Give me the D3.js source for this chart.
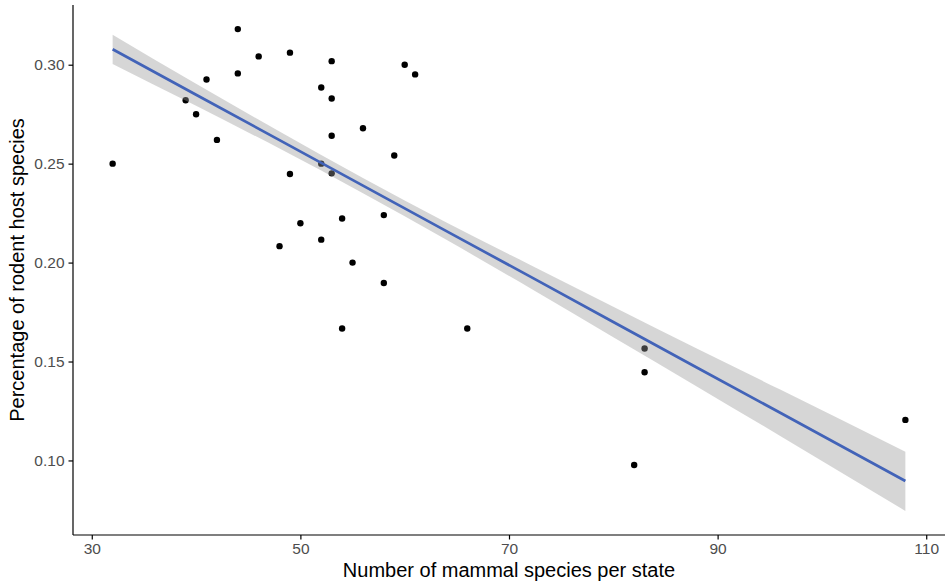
<!DOCTYPE html>
<html lang="en">
<head>
	<meta charset="UTF-8">
	<title>Rodent hosts vs mammal species</title>
	<script src="https://cdn.jsdelivr.net/npm/d3@7"></script>
	<style>
		body { margin: 0; background: #fff; }
		.dot { fill: #000; }
		.axis text { font-family: "Liberation Sans", Arial, sans-serif; font-size: 15.5px; fill: #4d4d4d; }
		.axis path, .axis line { stroke: #000; stroke-width: 1.2px; }
		.title { font-family: "Liberation Sans", Arial, sans-serif; font-size: 20px; fill: #000; }
	</style>
</head>
<body>
<script>
	// mammal species per state (x) and share of rodent host species (y)
	var mammals = [32, 39, 40, 41, 42, 44, 44, 46, 48, 49, 49, 50, 52, 52, 52, 53, 53,
		53, 53, 54, 54, 55, 56, 58, 58, 59, 60, 61, 66, 82, 83, 83, 108];
	var rodentShare = [0.250, 0.282, 0.275, 0.2925, 0.262, 0.318, 0.2956, 0.3042, 0.2083,
		0.3061, 0.2448, 0.2199, 0.2885, 0.250, 0.2116, 0.3018, 0.2829, 0.2641, 0.2451,
		0.2223, 0.1667, 0.200, 0.2679, 0.224, 0.1897, 0.2541, 0.300, 0.2951, 0.1667,
		0.0977, 0.1566, 0.1446, 0.1205];

	// linear fit and its 95% band
	var fitX     = [32, 40, 48, 56, 64, 72, 80, 88, 96, 108];
	var fitY     = [0.3078, 0.2848, 0.2619, 0.2389, 0.2159, 0.1930, 0.1700, 0.1470, 0.1241, 0.0896];
	var fitLower = [0.3004, 0.2792, 0.2576, 0.2351, 0.2115, 0.1871, 0.1623, 0.1374, 0.1124, 0.0745];
	var fitUpper = [0.3152, 0.2904, 0.2662, 0.2427, 0.2203, 0.1989, 0.1777, 0.1566, 0.1358, 0.1044];

	var xTicks = [30, 50, 70, 90, 110];
	var yTicks = [0.10, 0.15, 0.20, 0.25, 0.30];

	var data = mammals.map(function(d, i){ return [d, rodentShare[i]]; });
	var fit = fitX.map(function(d, i){ return { x: d, y: fitY[i], lo: fitLower[i], hi: fitUpper[i] }; });

	var W = 946, H = 587;
	var margin = { top: 5, left: 73, bottom: 52, right: 1 };
	var width = W - margin.left - margin.right;
	var height = H - margin.top - margin.bottom;

	var svg = d3.select('body')
		.append('svg')
			.attr('width', W)
			.attr('height', H)
		.append('g')
			.attr('transform', 'translate(' + margin.left + ',' + margin.top + ')');

	var xmin = d3.min(mammals), xmax = d3.max(mammals);
	var x = d3.scaleLinear()
		.range([0, width])
		.domain([xmin - (xmax - xmin) * 0.05, xmax + (xmax - xmin) * 0.05]);

	var ylo = Math.min(d3.min(rodentShare), d3.min(fitLower));
	var yhi = Math.max(d3.max(rodentShare), d3.max(fitUpper));
	var y = d3.scaleLinear()
		.range([height, 0])
		.domain([ylo - (yhi - ylo) * 0.05, yhi + (yhi - ylo) * 0.05]);

	svg.selectAll('.dot')
		.data(data)
		.enter().append('circle')
		.attr('class', 'dot')
		.attr('r', 3.2)
		.attr('cx', function(d){ return x(d[0]); })
		.attr('cy', function(d){ return y(d[1]); });

	// ribbon sits on top of the points, like geom_smooth
	svg.append('path')
		.datum(fit)
		.attr('fill', '#999999')
		.attr('fill-opacity', 0.4)
		.attr('d', d3.area()
			.curve(d3.curveMonotoneX)
			.x(function(d){ return x(d.x); })
			.y0(function(d){ return y(d.lo); })
			.y1(function(d){ return y(d.hi); }));

	svg.append('path')
		.datum(fit)
		.attr('fill', 'none')
		.attr('stroke', '#4263b8')
		.attr('stroke-width', 2.7)
		.attr('d', d3.line()
			.x(function(d){ return x(d.x); })
			.y(function(d){ return y(d.y); }));

	svg.append('g')
		.attr('class', 'axis')
		.call(d3.axisLeft(y).tickValues(yTicks).tickFormat(d3.format('.2f')).tickSize(4.5).tickPadding(4).tickSizeOuter(0))
		.call(function(g){ g.select('.domain').attr('d', 'M0,0V' + height); });

	svg.append('g')
		.attr('class', 'axis')
		.attr('transform', 'translate(0,' + height + ')')
		.call(d3.axisBottom(x).tickValues(xTicks).tickSize(4.5).tickPadding(3.5).tickSizeOuter(0))
		.call(function(g){ g.select('.domain').attr('d', 'M0,0H' + width); });

	svg.append('text')
		.attr('class', 'title')
		.attr('x', width / 2)
		.attr('y', height + 42)
		.attr('text-anchor', 'middle')
		.text('Number of mammal species per state');

	svg.append('text')
		.attr('class', 'title')
		.attr('transform', 'translate(' + (-49) + ',' + (height / 2) + ') rotate(-90)')
		.attr('text-anchor', 'middle')
		.text('Percentage of rodent host species');
</script>
</body>
</html>
